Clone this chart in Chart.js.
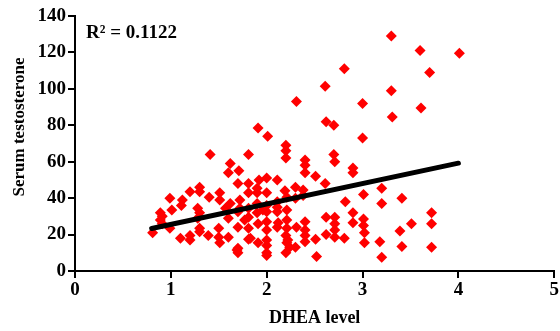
<!DOCTYPE html>
<html>
<head>
<meta charset="utf-8">
<script src="https://cdn.jsdelivr.net/npm/chart.js@4"></script>
<style>
html, body { margin: 0; padding: 0; background: #fff; }
</style>
</head>
<body>
<canvas id="myChart1" width="560" height="331"></canvas>
<script>
// DHEA level (x) vs serum testosterone (y), one entry per subject
var dhea_list = [
  3.30, 3.60, 4.01, 2.81, 3.70, 2.61, 3.30, 2.31, 3.00, 3.31, 3.61, 1.91, 2.01, 2.62, 2.70,
  2.20, 3.00, 1.41, 1.81, 2.20, 2.20, 2.40, 2.40, 2.40, 2.70, 2.71, 1.62, 1.71, 1.60, 2.90,
  2.90, 2.51, 2.61, 1.92, 2.00, 2.11, 1.81, 1.70, 1.90, 1.81, 2.19, 2.30, 2.38, 3.20, 3.01,
  3.41, 2.82, 3.20, 2.90, 3.72, 3.72, 3.51, 3.39, 3.01, 3.01, 3.02, 2.71, 2.71, 2.71, 2.71,
  2.62, 2.62, 2.81, 3.02, 3.18, 3.41, 3.72, 3.20, 2.52, 2.51, 2.40, 2.40, 2.40, 2.31, 2.30,
  2.20, 2.22, 2.20, 2.11, 2.00, 2.00, 2.00, 2.00, 2.00, 1.90, 1.91, 1.91, 1.81, 1.81, 1.81,
  1.81, 1.70, 1.70, 1.70, 1.70, 1.60, 2.21, 2.21, 2.21, 2.11, 2.11, 2.00, 2.00, 2.00, 1.90,
  1.90, 1.72, 1.72, 1.62, 1.57, 1.51, 1.51, 1.30, 1.30, 1.20, 1.40, 1.12, 0.99, 1.01, 0.89,
  0.89, 0.91, 0.81, 0.99, 1.10, 1.20, 1.20, 1.30, 1.30, 1.39, 1.51, 1.50, 1.50, 1.60, 1.69,
  1.28, 1.30, 1.28, 1.11, 0.91, 1.96, 2.11, 2.30, 2.38, 1.77, 2.12, 2.21, 1.83, 2.21, 2.24,
  2.40, 2.00, 2.90
];
var testosterone_list = [
  129, 121, 119.5, 111, 109, 101.5, 99, 93, 92, 84.5, 89.5, 78.5, 74, 82, 80,
  69, 73, 64, 64, 66, 62, 61, 58, 54, 64, 60, 59, 55, 54, 56.5,
  54, 52, 48, 50, 51, 50, 48, 48, 45.5, 43, 44, 46, 44.5, 45.5, 42,
  40, 38, 37, 32, 32, 26, 26, 22, 28.5, 25, 21, 29.5, 26, 22.5, 18.5,
  29.5, 20, 18, 15.5, 16, 13.5, 13, 7.5, 8, 17.5, 27, 22.5, 19.5, 24, 13,
  19.5, 17, 10, 24, 27, 22.5, 17, 14, 10, 32, 26, 15.5, 34.5, 29.5, 23.5,
  17.5, 32.5, 24, 12.5, 10, 18.5, 40.5, 33.5, 28, 38, 32.5, 43, 36, 32.5, 43,
  37, 39, 34.5, 37, 34.5, 43, 39, 46, 43.5, 43.5, 40.5, 39, 40, 33.5, 32,
  28, 26, 21, 23.5, 18, 19.5, 17, 23.5, 21.5, 19.5, 15.5, 23.5, 18.5, 29, 11.5,
  34.5, 32, 29, 36, 30, 33.5, 35, 40, 41.5, 28, 26.5, 23.5, 18, 15.5, 13,
  16, 8.5, 26.5
];

// linear fit, drawn between the lowest and highest DHEA values
var fit_x = [0.8, 4.0];
var fit_y = [23.3, 59.2];

var x_ticks = [0, 1, 2, 3, 4, 5];
var y_ticks = [0, 20, 40, 60, 80, 100, 120, 140];

var r2_label = "R\u00b2 = 0.1122";
var x_title = "DHEA level";
var y_title = "Serum testosterone";

var serif = "'Liberation Serif', 'Times New Roman', serif";

function toPoints(xs, ys){
  var out = [];
  for (var i = 0; i < xs.length; i++) out.push({x: xs[i], y: ys[i]});
  return out;
}

// R^2 note and the rotated y title
var extraText = {
  id: "extraText",
  afterDraw: function(chart){
    var ctx = chart.ctx;
    var area = chart.chartArea;
    ctx.save();
    ctx.fillStyle = "#000";
    ctx.textBaseline = "alphabetic";
    ctx.font = "bold 19px " + serif;
    ctx.fillText(r2_label, area.left + 11, 38);
    ctx.translate(24, 127);
    ctx.rotate(-Math.PI / 2);
    ctx.textAlign = "center";
    ctx.font = "bold 17px " + serif;
    ctx.fillText(y_title, 0, 0);
    ctx.restore();
  }
};

function axisStyle(){
  return {
    border: { display: true, color: "#000", width: 2 },
    grid: { drawOnChartArea: false, drawTicks: true, tickLength: 7, color: "#000", lineWidth: 2 }
  };
}

function scatterChart(){
  if (window.chart1 != undefined)
    window.chart1.destroy();
  var xAxis = axisStyle();
  xAxis.type = "linear";
  xAxis.min = x_ticks[0];
  xAxis.max = x_ticks[x_ticks.length - 1];
  xAxis.afterBuildTicks = function(s){ s.ticks = x_ticks.map(function(v){ return {value: v}; }); };
  xAxis.afterFit = function(s){ s.height = 60; };
  xAxis.ticks = { color: "#000", padding: 1, font: { family: serif, size: 19, weight: "bold" } };
  xAxis.title = { display: true, text: x_title, color: "#000", padding: { top: 0, bottom: 2 },
                  font: { family: serif, size: 18, weight: "bold" } };

  var yAxis = axisStyle();
  yAxis.type = "linear";
  yAxis.min = y_ticks[0];
  yAxis.max = y_ticks[y_ticks.length - 1];
  yAxis.afterBuildTicks = function(s){ s.ticks = y_ticks.map(function(v){ return {value: v}; }); };
  yAxis.afterFit = function(s){ s.width = 75; };
  yAxis.ticks = { color: "#000", padding: 2, font: { family: serif, size: 19, weight: "bold" } };

  window.chart1 = new Chart(document.getElementById("myChart1"), {
    type: "scatter",
    data: {
      datasets: [{
        type: "line",
        label: "Fit",
        data: toPoints(fit_x, fit_y),
        borderColor: "#000",
        borderWidth: 5,
        borderCapStyle: "round",
        pointRadius: 0,
        fill: false,
        order: 0
      }, {
        label: "Subjects",
        data: toPoints(dhea_list, testosterone_list),
        pointStyle: "rectRot",
        pointRadius: 5.5,
        backgroundColor: "#ff0000",
        borderColor: "#ff0000",
        borderWidth: 0,
        order: 1
      }]
    },
    options: {
      responsive: false,
      animation: false,
      devicePixelRatio: 1,
      layout: { padding: { top: 16, right: 4, left: 0, bottom: 0 } },
      plugins: { legend: { display: false }, tooltip: { enabled: false } },
      scales: { x: xAxis, y: yAxis }
    },
    plugins: [extraText]
  });
}

scatterChart();
</script>
</body>
</html>
